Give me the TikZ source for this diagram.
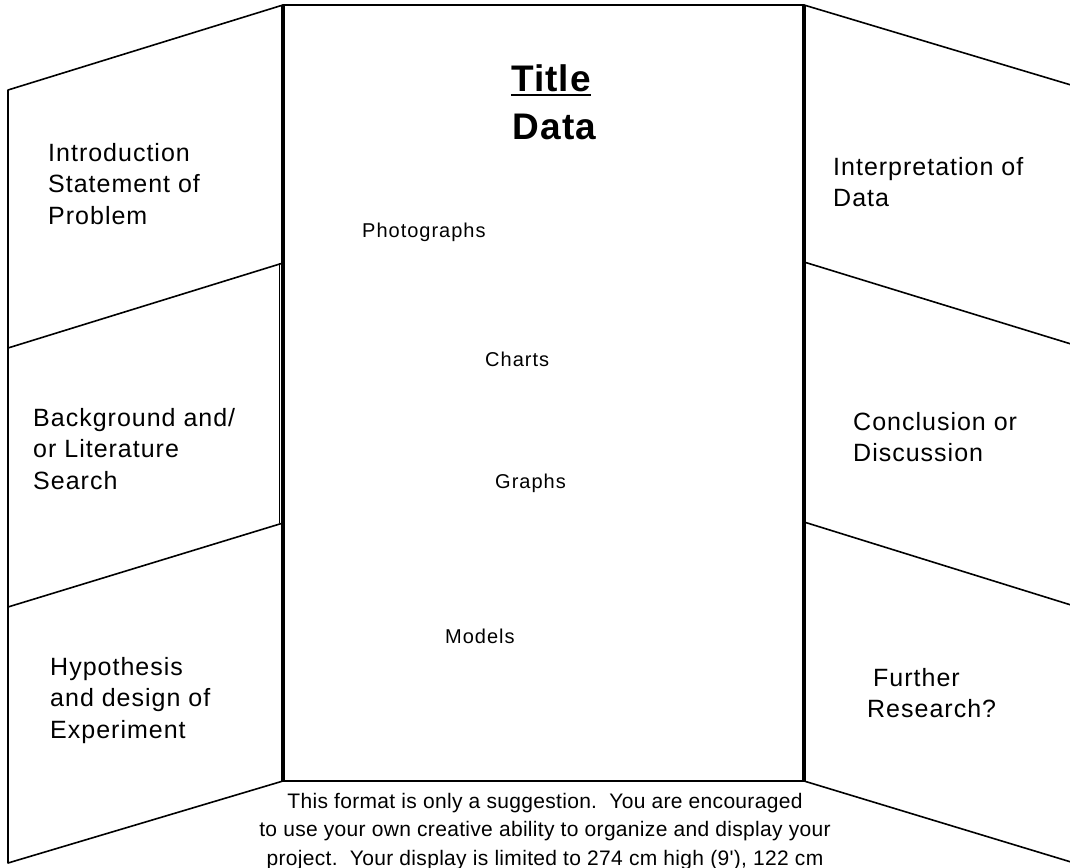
\documentclass[tikz,border=0pt]{standalone}
\usepackage{fontspec}
\setmainfont{Liberation Sans}
\newfontfamily\sidefont[LetterSpace=4]{Liberation Sans}
\newfontfamily\centfont[LetterSpace=5]{Liberation Sans}
\newfontfamily\headfont[LetterSpace=3]{Liberation Sans}
\newfontfamily\notefont[LetterSpace=1.5]{Liberation Sans}
\frenchspacing
\tikzset{
  thinline/.style={line width=1.6pt, line cap=round, line join=round},
  thickline/.style={line width=3.6pt},
  sidetext/.style={anchor=north west, inner sep=0pt, align=left,
     font=\sidefont\fontsize{25}{31.5}\selectfont},
  centtext/.style={anchor=base west, inner sep=0pt,
     font=\centfont\fontsize{20}{24}\selectfont},
  headtext/.style={anchor=base, inner sep=0pt,
     font=\headfont\bfseries\fontsize{37}{44}\selectfont},
  notetext/.style={anchor=north, inner sep=0pt, align=center,
     font=\notefont\fontsize{21}{28.5}\selectfont}
}
\begin{document}
\begin{tikzpicture}[x=1pt,y=-1pt]
\useasboundingbox (0,0) rectangle (1070,867);
\fill[white] (0,0) rectangle (1070,867);
\clip (0,0) rectangle (1070,867);
% corner coordinates
\coordinate (cTL) at (283,5);
\coordinate (cBL) at (283,781);
\coordinate (cTR) at (804,5);
\coordinate (cBR) at (804,781);
\coordinate (l0) at (8,90);
\coordinate (l1) at (8,348);
\coordinate (l2) at (8,607);
\coordinate (l3) at (8,863);
\coordinate (m1) at (283,263);
\coordinate (m2) at (283,523);
\coordinate (r0) at (1071,85);
\coordinate (r1) at (1071,344);
\coordinate (r2) at (1071,605);
\coordinate (r3) at (1071,862);
\coordinate (n1) at (804,262);
\coordinate (n2) at (804,522);
% left wing
\draw[thinline] (cTL) -- (l0) -- (l3) -- (cBL);
\draw[thinline] (m1) -- (l1);
\draw[thinline] (m2) -- (l2);
\draw[line width=1pt] (279,263) -- (279,523);
% right wing
\draw[thinline] (cTR) -- (r0);
\draw[thinline] (n1) -- (r1);
\draw[thinline] (n2) -- (r2);
\draw[thinline] (cBR) -- (r3);
% central panel
\draw[thinline] (cTL) -- (cTR);
\draw[thinline] (cBL) -- (cBR);
\draw[thickline] (cTL) -- (cBL);
\draw[thickline] (cTR) -- (cBR);
% side texts
\node[sidetext] (intro) at (48,143) {Introduction\\Statement of\\Problem};
\node[sidetext] (bg) at (33,408) {Background and/\\or Literature\\Search};
\node[sidetext] (hyp) at (50,657) {Hypothesis\\and design of\\Experiment};
\node[sidetext] (interp) at (833,157) {Interpretation of\\Data};
\node[sidetext] (concl) at (853,412) {Conclusion or\\Discussion};
\node[sidetext] (further) at (867,668) {\hspace{6pt}Further\\Research?};
% central texts
\node[headtext] (title) at (551,91) {Title};
\draw[line width=2.5pt] ([yshift=-4pt]title.base west) -- ([yshift=-4pt]title.base east);
\node[headtext] (data) at (554.5,139) {Data};
\node[centtext] (photo) at (362,237) {Photographs};
\node[centtext] (charts) at (485,366) {Charts};
\node[centtext] (graphs) at (495,488) {Graphs};
\node[centtext] (models) at (445,643) {Models};
% note
\node[notetext] (note) at (545,793) {This format is only a suggestion.\ \ You are encouraged\\to use your own creative ability to organize and display your\\project.\ \ Your display is limited to 274 cm high (9'), 122 cm};
\end{tikzpicture}
\end{document}
